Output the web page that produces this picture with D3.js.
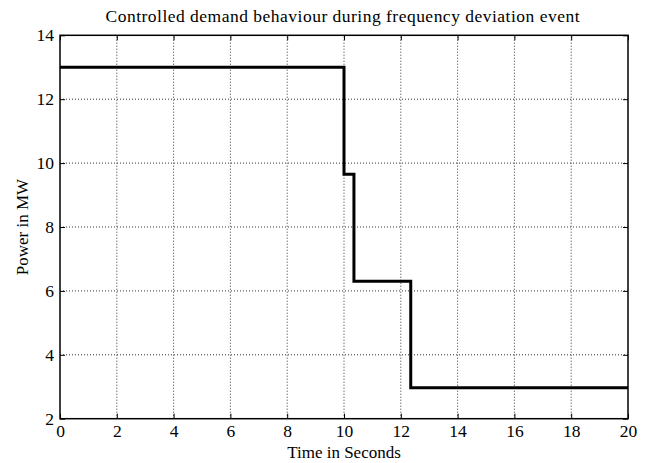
<!DOCTYPE html>
<html><head><meta charset="utf-8">
<script src="https://cdn.jsdelivr.net/npm/d3@7"></script>
<style>body{margin:0;background:#fff}svg{display:block}text{font-family:"Liberation Serif",serif;fill:#000}</style>
</head><body><svg id="c" width="648" height="463"></svg>
<script>
const times = [0, 10, 10.35, 12.35, 20];
const power = [13, 9.65, 6.3, 2.97, 2.97];
const xTicks = [0,2,4,6,8,10,12,14,16,18,20];
const yTicks = [2,4,6,8,10,12,14];
const title = "Controlled demand behaviour during frequency deviation event";
const xLabel = "Time in Seconds";
const yLabel = "Power in MW";

const W=648,H=463, m={l:60,r:20,t:35.3,b:44.3};
const FONT="Liberation Serif";
const svg=d3.select("#c");
const x=d3.scaleLinear().domain([0,20]).range([m.l,W-m.r]);
const y=d3.scaleLinear().domain([2,14]).range([H-m.b,m.t]);

// grid
const g=svg.append("g");
g.selectAll(".gx").data(xTicks.slice(1,-1)).join("line")
 .attr("x1",d=>x(d)).attr("x2",d=>x(d)).attr("y1",y(2)).attr("y2",y(14))
 .attr("stroke","#000").attr("stroke-width",0.8).attr("stroke-dasharray","1,2");
g.selectAll(".gy").data(yTicks.slice(1,-1)).join("line")
 .attr("y1",d=>y(d)).attr("y2",d=>y(d)).attr("x1",x(0)).attr("x2",x(20))
 .attr("stroke","#000").attr("stroke-width",0.8).attr("stroke-dasharray","1,2");

// data line
const data=times.map((t,i)=>({t,p:power[i]}));
svg.append("path").datum(data)
 .attr("d",d3.line().x(d=>x(d.t)).y(d=>y(d.p)).curve(d3.curveStepAfter))
 .attr("fill","none").attr("stroke","#000").attr("stroke-width",3);

// axes with inward ticks
const fs=17.5;
const bx=svg.append("g").attr("transform",`translate(0,${y(2)})`)
 .call(d3.axisBottom(x).tickValues(xTicks).tickSizeInner(-5).tickSizeOuter(0).tickPadding(6));
const tx=svg.append("g").attr("transform",`translate(0,${y(14)})`)
 .call(d3.axisTop(x).tickValues(xTicks).tickSizeInner(-5).tickSizeOuter(0).tickFormat(""));
const ly=svg.append("g").attr("transform",`translate(${x(0)},0)`)
 .call(d3.axisLeft(y).tickValues(yTicks).tickSizeInner(-5).tickSizeOuter(0).tickPadding(6));
const ry=svg.append("g").attr("transform",`translate(${x(20)},0)`)
 .call(d3.axisRight(y).tickValues(yTicks).tickSizeInner(-5).tickSizeOuter(0).tickFormat(""));
[bx,tx,ly,ry].forEach(a=>{a.selectAll("path").remove();a.selectAll("line").attr("stroke","#000").attr("stroke-width",1);
 a.selectAll("text").attr("font-family",FONT).attr("font-size",fs).attr("fill","#000");});
bx.selectAll("text").attr("dy","0.71em");

svg.append("rect").attr("x",x(0)).attr("y",y(14)).attr("width",x(20)-x(0)).attr("height",y(2)-y(14))
 .attr("fill","none").attr("stroke","#000").attr("stroke-width",1.5);

svg.append("text").attr("x",342.5).attr("y",22).attr("text-anchor","middle")
 .attr("font-size",17.5).attr("textLength",474).attr("lengthAdjust","spacing").text(title);
svg.append("text").attr("x",(x(0)+x(20))/2).attr("y",458).attr("text-anchor","middle")
 .attr("font-size",17).text(xLabel);
svg.append("text").attr("transform",`translate(28,${(y(2)+y(14))/2}) rotate(-90)`).attr("text-anchor","middle")
 .attr("font-size",17).text(yLabel);
</script></body></html>
